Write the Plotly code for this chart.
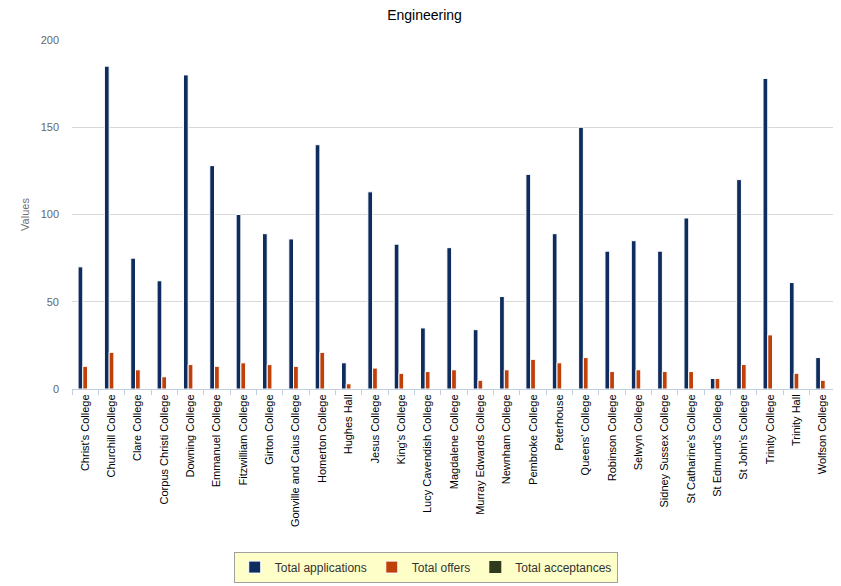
import plotly.graph_objects as go

colleges = ["Christ's College", "Churchill College", "Clare College", "Corpus Christi College",
            "Downing College", "Emmanuel College", "Fitzwilliam College", "Girton College",
            "Gonville and Caius College", "Homerton College", "Hughes Hall", "Jesus College",
            "King's College", "Lucy Cavendish College", "Magdalene College", "Murray Edwards College",
            "Newnham College", "Pembroke College", "Peterhouse", "Queens' College",
            "Robinson College", "Selwyn College", "Sidney Sussex College", "St Catharine's College",
            "St Edmund's College", "St John's College", "Trinity College", "Trinity Hall",
            "Wolfson College"]

applications = [70, 185, 75, 62, 180, 128, 100, 89, 86, 140, 15, 113, 83, 35, 81, 34, 53, 123, 89,
                150, 79, 85, 79, 98, 6, 120, 178, 61, 18]
offers = [13, 21, 11, 7, 14, 13, 15, 14, 13, 21, 3, 12, 9, 10, 11, 5, 11, 17, 15,
          18, 10, 11, 10, 10, 6, 14, 31, 9, 5]
acceptances = [0] * len(colleges)

FONT = "Liberation Sans, Arial, sans-serif"

fig = go.Figure()
fig.add_trace(go.Bar(name="Total applications", x=colleges, y=applications,
                     marker=dict(color="#0E2D5E", line=dict(color="#FFFFFF", width=1))))
fig.add_trace(go.Bar(name="Total offers", x=colleges, y=offers,
                     marker=dict(color="#C0400A", line=dict(color="#FFFFFF", width=1))))
fig.add_trace(go.Bar(name="Total acceptances", x=colleges, y=acceptances,
                     marker=dict(color="#2F3A1C", line=dict(color="#FFFFFF", width=0))))

fig.update_layout(
    width=833, height=578,
    paper_bgcolor="white", plot_bgcolor="white",
    margin=dict(l=64, r=5, t=32, b=196),
    title=dict(text="Engineering", x=0.5, xanchor="center", y=0.988, yanchor="middle",
               font=dict(family=FONT, size=14, color="#000000")),
    barmode="group", bargap=0.46, bargroupgap=0,
    font=dict(family=FONT, size=11, color="#666666"),
    showlegend=True,
    legend=dict(orientation="h", x=0.463, xanchor="center", y=-0.506, yanchor="middle",
                bgcolor="#FEFEC8", bordercolor="#A0A0A0", borderwidth=1,
                font=dict(family=FONT, size=12, color="#333333"),
                itemwidth=30, traceorder="normal"),
    xaxis=dict(tickangle=-90, tickfont=dict(family=FONT, size=11, color="#000000"),
               showline=True, linecolor="#C0D0E0", linewidth=1,
               ticks="outside", tickson="boundaries", ticklen=5, tickcolor="#C0D0E0",
               showgrid=False),
    yaxis=dict(range=[0, 200], dtick=50, showgrid=True, gridcolor="#D8D8D8", gridwidth=1,
               zeroline=False, showline=False, ticklabelstandoff=12,
               tickfont=dict(family=FONT, size=11, color="#666666"),
               title=dict(text="Values", font=dict(family=FONT, size=11, color="#707070"), standoff=8)),
)

fig.write_html("out.html")
